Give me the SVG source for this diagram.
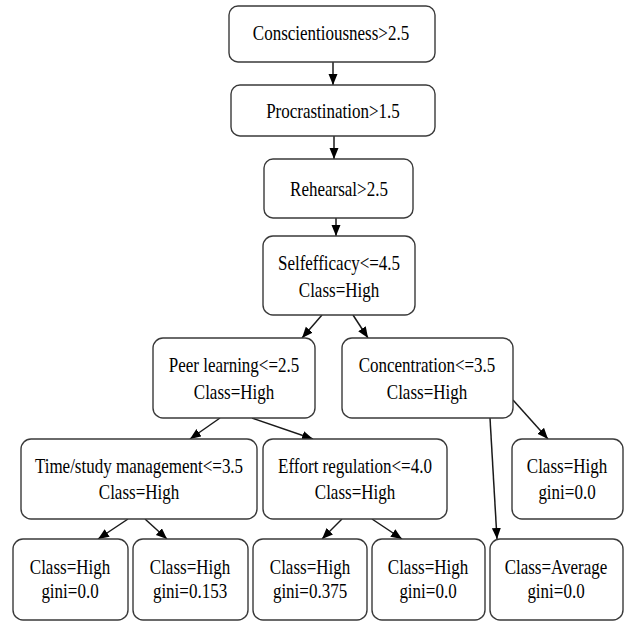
<svg xmlns="http://www.w3.org/2000/svg" width="626" height="621" viewBox="0 0 626 621">
  <style>
    .box { fill: #ffffff; stroke: #3a3a3a; stroke-width: 1.4; }
    .lbl { font-family: "Liberation Serif", "Times New Roman", serif; font-size: 20px; fill: #000000; text-anchor: middle; }
    .edge { fill: none; stroke: #1a1a1a; stroke-width: 1.5; marker-end: url(#arrow); }
  </style>
  <defs>
    <marker id="arrow" markerUnits="userSpaceOnUse" markerWidth="12" markerHeight="10" refX="11" refY="4.5" orient="auto">
      <path d="M0,0 L11,4.5 L0,9 z" fill="#000000"/>
    </marker>
  </defs>
  <rect width="626" height="621" fill="#ffffff"/>

  <g id="connectors">
    <line class="edge" x1="333" y1="62" x2="333" y2="85"/>
    <line class="edge" x1="334" y1="136" x2="334" y2="159"/>
    <line class="edge" x1="336" y1="218" x2="336" y2="236"/>
    <line class="edge" x1="322" y1="315" x2="302" y2="338"/>
    <line class="edge" x1="353" y1="315" x2="368" y2="338"/>
    <line class="edge" x1="220" y1="418" x2="190" y2="439"/>
    <line class="edge" x1="252" y1="418" x2="313" y2="439"/>
    <line class="edge" x1="490" y1="418" x2="497" y2="539"/>
    <line class="edge" x1="513" y1="400" x2="548" y2="439"/>
    <line class="edge" x1="128" y1="519" x2="98" y2="539"/>
    <line class="edge" x1="145" y1="519" x2="167" y2="539"/>
    <line class="edge" x1="342" y1="519" x2="322" y2="539"/>
    <line class="edge" x1="372" y1="519" x2="402" y2="539"/>
  </g>

  <g id="n-conscientiousness">
    <rect class="box" x="229" y="6" width="206" height="56" rx="9"/>
    <text class="lbl" transform="translate(331,40) scale(0.85,1)">Conscientiousness&gt;2.5</text>
  </g>
  <g id="n-procrastination">
    <rect class="box" x="231" y="85" width="204" height="51" rx="9"/>
    <text class="lbl" transform="translate(333,118) scale(0.85,1)">Procrastination&gt;1.5</text>
  </g>
  <g id="n-rehearsal">
    <rect class="box" x="264" y="159" width="149" height="59" rx="9"/>
    <text class="lbl" transform="translate(339,196) scale(0.85,1)">Rehearsal&gt;2.5</text>
  </g>
  <g id="n-selfefficacy">
    <rect class="box" x="263" y="236" width="152" height="79" rx="10"/>
    <text class="lbl" transform="translate(339,270) scale(0.85,1)">Selfefficacy&lt;=4.5</text>
    <text class="lbl" transform="translate(339,297) scale(0.85,1)">Class=High</text>
  </g>
  <g id="n-peer-learning">
    <rect class="box" x="153" y="338" width="162" height="80" rx="10"/>
    <text class="lbl" transform="translate(234,372) scale(0.85,1)">Peer learning&lt;=2.5</text>
    <text class="lbl" transform="translate(234,399) scale(0.85,1)">Class=High</text>
  </g>
  <g id="n-concentration">
    <rect class="box" x="342" y="338" width="171" height="80" rx="10"/>
    <text class="lbl" transform="translate(427,372) scale(0.85,1)">Concentration&lt;=3.5</text>
    <text class="lbl" transform="translate(427,399) scale(0.85,1)">Class=High</text>
  </g>
  <g id="n-time-study">
    <rect class="box" x="21" y="439" width="236" height="80" rx="10"/>
    <text class="lbl" transform="translate(139,473) scale(0.85,1)">Time/study management&lt;=3.5</text>
    <text class="lbl" transform="translate(139,499) scale(0.85,1)">Class=High</text>
  </g>
  <g id="n-effort">
    <rect class="box" x="263" y="439" width="184" height="80" rx="10"/>
    <text class="lbl" transform="translate(355,473) scale(0.85,1)">Effort regulation&lt;=4.0</text>
    <text class="lbl" transform="translate(355,499) scale(0.85,1)">Class=High</text>
  </g>
  <g id="leaf-conc-high">
    <rect class="box" x="512" y="439" width="111" height="80" rx="10"/>
    <text class="lbl" transform="translate(567,473) scale(0.85,1)">Class=High</text>
    <text class="lbl" transform="translate(567,499) scale(0.85,1)">gini=0.0</text>
  </g>
  <g id="leaf-time-a">
    <rect class="box" x="13" y="539" width="115" height="81" rx="10"/>
    <text class="lbl" transform="translate(70,574) scale(0.85,1)">Class=High</text>
    <text class="lbl" transform="translate(70,598) scale(0.85,1)">gini=0.0</text>
  </g>
  <g id="leaf-time-b">
    <rect class="box" x="133" y="539" width="115" height="81" rx="10"/>
    <text class="lbl" transform="translate(190,574) scale(0.85,1)">Class=High</text>
    <text class="lbl" transform="translate(190,598) scale(0.85,1)">gini=0.153</text>
  </g>
  <g id="leaf-effort-a">
    <rect class="box" x="253" y="539" width="114" height="81" rx="10"/>
    <text class="lbl" transform="translate(310,574) scale(0.85,1)">Class=High</text>
    <text class="lbl" transform="translate(310,598) scale(0.85,1)">gini=0.375</text>
  </g>
  <g id="leaf-effort-b">
    <rect class="box" x="372" y="539" width="113" height="81" rx="10"/>
    <text class="lbl" transform="translate(428,574) scale(0.85,1)">Class=High</text>
    <text class="lbl" transform="translate(428,598) scale(0.85,1)">gini=0.0</text>
  </g>
  <g id="leaf-conc-average">
    <rect class="box" x="490" y="539" width="133" height="81" rx="10"/>
    <text class="lbl" transform="translate(556,574) scale(0.85,1)">Class=Average</text>
    <text class="lbl" transform="translate(556,598) scale(0.85,1)">gini=0.0</text>
  </g>
</svg>
